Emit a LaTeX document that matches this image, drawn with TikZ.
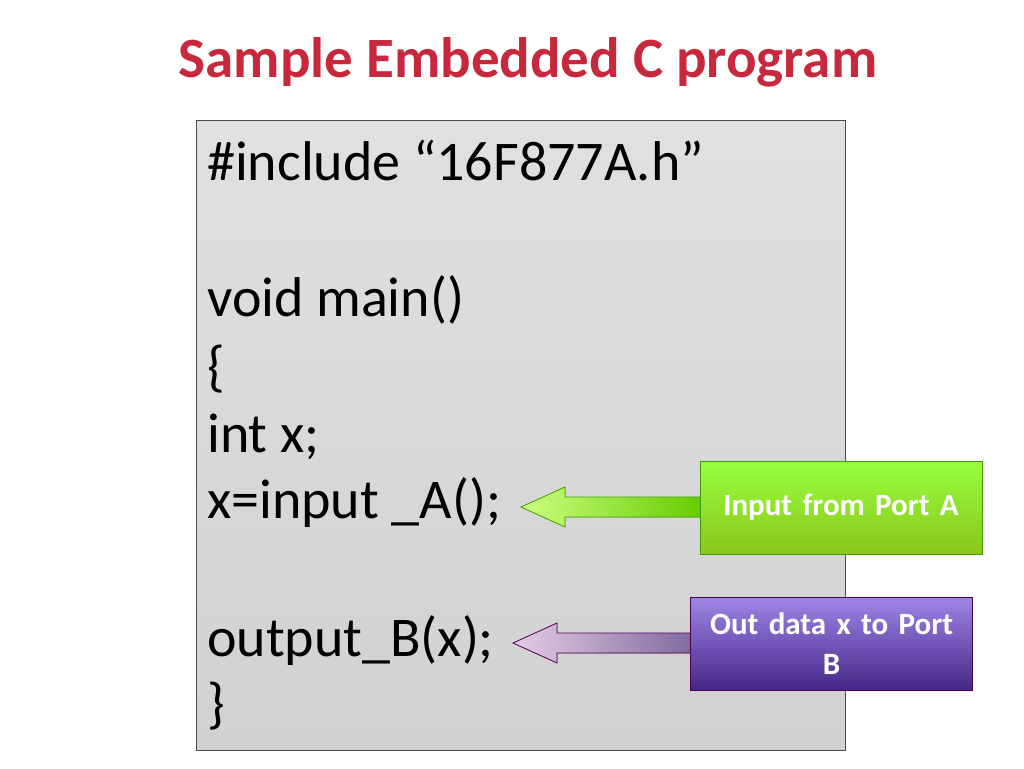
\documentclass[tikz,border=0pt]{standalone}
\usepackage{fontspec}
\setmainfont{Carlito}
\begin{document}
\begin{tikzpicture}[x=1pt,y=-1pt,
  code/.style={anchor=base west,font=\fontsize{56}{60}\selectfont,inner sep=0},
  callout/.style={draw=#1!60!black,line width=0.8pt,minimum width=282,minimum height=93,text width=270,align=center,text=white,font=\bfseries\fontsize{31}{40}\selectfont},
  barrow/.style={draw=#1!65!black,line width=0.8pt}]
\useasboundingbox (0,0) rectangle (1024,768);
\node[font=\bfseries\fontsize{57}{60}\selectfont,text={rgb,255:red,200;green,40;blue,60}] (title) at (528,62) {Sample Embedded C program};
\shade[top color=white!88!black,bottom color=white!82!black,draw=black!70,line width=0.6pt] (196,120) rectangle (845,750);
\node[code] (l1) at (207,180) {\#include “16F877A.h”};
\node[code] (l2) at (207,316) {void main()};
\node[code] (l3) at (207,385) {\{};
\node[code] (l4) at (207,452) {int x;};
\node[code] (l5) at (207,518) {x=input \_A();};
\node[code] (l6) at (207,656) {output\_B(x);};
\node[code] (l7) at (207,722) {\}};
% green arrow
\fill[left color=green!40!yellow!50!white,right color=green!50!yellow!80!black] (701,497) -- (565,497) -- (565,487) -- (521,507) -- (565,527) -- (565,517) -- (701,517) -- cycle;
\draw[barrow=green!60!yellow] (701,497) -- (565,497) -- (565,487) -- (521,507) -- (565,527) -- (565,517) -- (701,517);
\shade[top color=green!55!yellow!75!white,bottom color=green!50!black!50!yellow!90] (700,461) rectangle (982,554);
\node[callout=green!60!yellow] (g) at (841,507.5) {Input from Port A};
% purple arrow
\fill[left color=violet!20!white,right color=violet!55!blue!40!white!70!black] (692,633) -- (557,633) -- (557,623) -- (513,643) -- (557,663) -- (557,653) -- (692,653) -- cycle;
\draw[barrow=violet] (692,633) -- (557,633) -- (557,623) -- (513,643) -- (557,663) -- (557,653) -- (692,653);
\shade[top color=violet!40!blue!50!white!95,bottom color=violet!50!blue!60!black!85] (691,597) rectangle (972,690);
\node[callout=violet] (p) at (831.5,643.5) {Out data x to Port\\B};
\end{tikzpicture}
\end{document}
